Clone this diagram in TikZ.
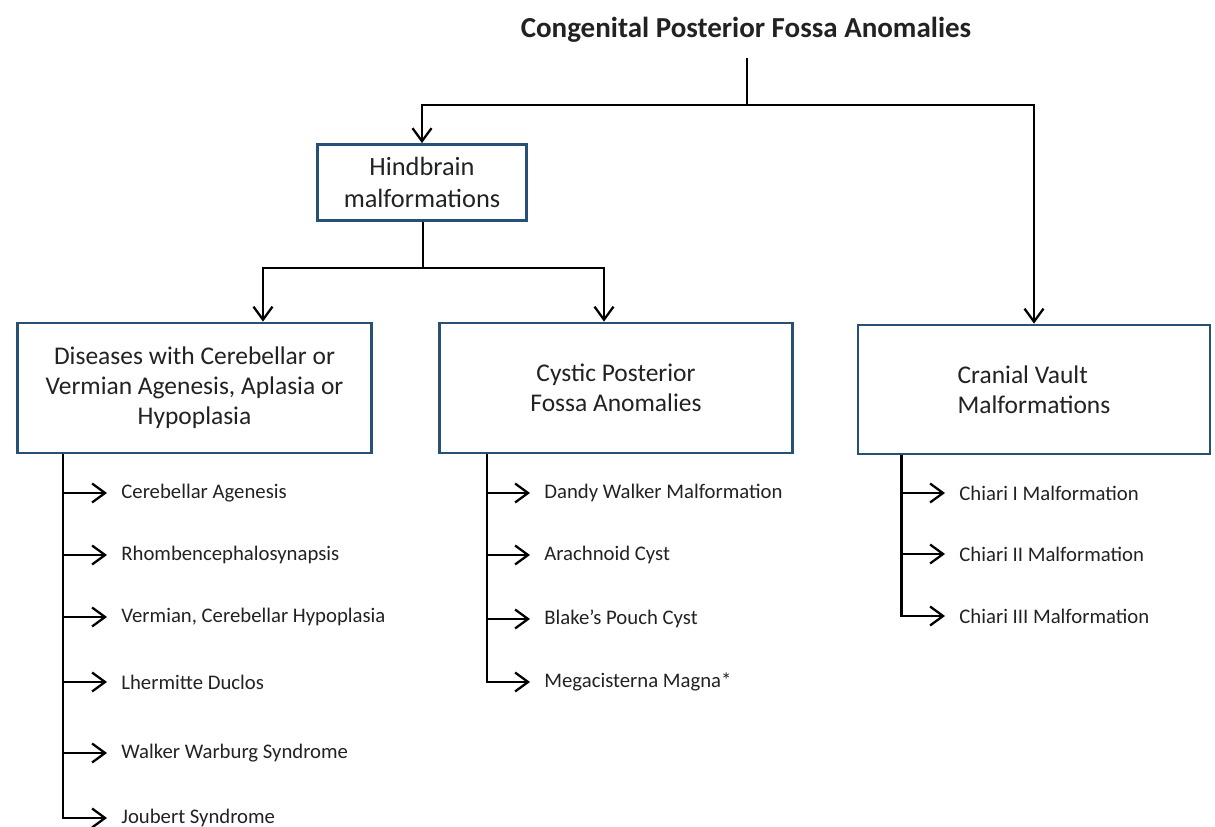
\documentclass[tikz,border=0pt]{standalone}
\usepackage{fontspec}
\setmainfont{Carlito}
\usetikzlibrary{arrows.meta}
\definecolor{boxblue}{RGB}{38,80,118}
\definecolor{txtgray}{RGB}{34,34,34}

\begin{document}
\begin{tikzpicture}[x=0.02cm, y=-0.02cm,
	box/.style={draw=boxblue, line width=1.6pt, fill=white, align=center, text=txtgray,
		font=\fontsize{14.5}{17}\selectfont},
	item/.style={anchor=west, inner xsep=8pt, inner ysep=1pt, text=txtgray,
		font=\fontsize{11.8}{13}\selectfont},
	link/.style={line width=1.3pt},
	arr/.style={link, -{Straight Barb[length=2.6mm, width=3.8mm]}}]
	\useasboundingbox (0,0) rectangle (1215,827);
	% headings
	\node[font=\fontsize{16.5}{19}\selectfont\bfseries, text=txtgray] (title) at (746,30) {Congenital Posterior Fossa Anomalies};
	\node[box, minimum width=4.18cm, minimum height=1.52cm, font=\fontsize{15}{18}\selectfont] (hind) at (422,182.5) {Hindbrain\\malformations};
	\node[box, minimum width=7.08cm, minimum height=2.6cm] (box1) at (194.5,388) {Diseases with Cerebellar or\\Vermian Agenesis, Aplasia or\\Hypoplasia};
	\node[box, minimum width=7.06cm, minimum height=2.6cm] (box2) at (616,388) {Cystic Posterior\\Fossa Anomalies};
	\node[box, align=left, minimum width=7.04cm, minimum height=2.58cm] (box3) at (1034,389.5) {Cranial Vault\\Malformations};
	% upper branches
	\coordinate (split1) at (747,105);
	\coordinate (split2) at (423,268);
	\draw[link, shorten <=5.5pt] (title.south -| split1) -- (split1);
	\draw[arr] (split1) -| (hind.north);
	\draw[arr] (split1) -| (box3.north);
	\draw[link] (hind.south -| split2) -- (split2);
	\draw[arr] (split2) -| ([xshift=1.37cm]box1.north);
	\draw[arr] (split2) -| ([xshift=-0.24cm]box2.north);
	% lists
	\foreach \y/\txt [count=\i] in {493/Cerebellar Agenesis, 555/Rhombencephalosynapsis,
		617/{Vermian, Cerebellar Hypoplasia}, 682/Lhermitte Duclos,
		753/Walker Warburg Syndrome, 818/Joubert Syndrome}
		\node[item] (a\i) at (107,\y) {\txt};
	\foreach \y/\txt [count=\i] in {493/Dandy Walker Malformation, 555/Arachnoid Cyst,
		619/Blake’s Pouch Cyst, 682/Megacisterna Magna*}
		\node[item] (b\i) at (530,\y) {\txt};
	\foreach \y/\txt [count=\i] in {493/Chiari I Malformation, 554/Chiari II Malformation,
		616/Chiari III Malformation}
		\node[item] (c\i) at (945,\y) {\txt};
	\coordinate (s1) at ([xshift=0.94cm]box1.south west);
	\coordinate (s2) at ([xshift=0.98cm]box2.south west);
	\coordinate (s3) at ([xshift=0.9cm]box3.south west);
	\draw[arr] (s1) |- (a6.west);
	\foreach \i in {1,...,5}
		\draw[arr] (s1 |- a\i.west) -- (a\i.west);
	\draw[arr] (s2) |- (b4.west);
	\foreach \i in {1,...,3}
		\draw[arr] (s2 |- b\i.west) -- (b\i.west);
	\draw[arr] (s3) |- (c3.west);
	\foreach \i in {1,2}
		\draw[arr] (s3 |- c\i.west) -- (c\i.west);
\end{tikzpicture}
\end{document}
